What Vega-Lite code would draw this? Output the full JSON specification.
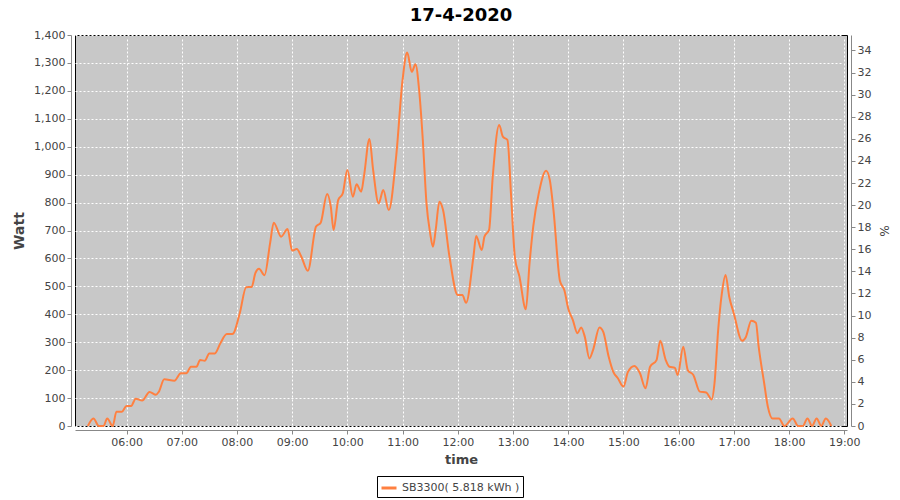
{
  "$schema": "https://vega.github.io/schema/vega-lite/v6.json",
  "autosize": {"type": "none"},
  "width": 772,
  "height": 391,
  "padding": {"left": 75, "top": 35, "right": 53, "bottom": 74},
  "background": "white",
  "title": {"text": "17-4-2020", "font": "DejaVu Sans", "fontSize": 18, "fontWeight": "bold", "color": "black", "offset": 4},
  "config": {
    "view": {"fill": "#c8c8c8", "stroke": "black", "strokeWidth": 1},
    "axis": {
      "domainColor": "#888888", "tickColor": "#888888", "labelColor": "#444444",
      "labelFont": "DejaVu Sans", "labelFontSize": 11, "titleFont": "DejaVu Sans",
      "titleColor": "#444444", "gridColor": "white", "gridDash": [2, 2], "gridOpacity": 1,
      "gridWidth": 1, "offset": 4, "tickSize": 4, "labelPadding": 2
    }
  },
  "layer": [
    {
      "data": {"values": [
        {"t": "2020-04-17T05:18", "w": 0},
        {"t": "2020-04-17T05:24", "w": 27},
        {"t": "2020-04-17T05:30", "w": 0},
        {"t": "2020-04-17T05:35", "w": 0},
        {"t": "2020-04-17T05:39", "w": 27},
        {"t": "2020-04-17T05:45", "w": 0},
        {"t": "2020-04-17T05:49", "w": 51},
        {"t": "2020-04-17T05:55", "w": 51},
        {"t": "2020-04-17T06:00", "w": 72},
        {"t": "2020-04-17T06:05", "w": 72},
        {"t": "2020-04-17T06:10", "w": 98},
        {"t": "2020-04-17T06:17", "w": 91},
        {"t": "2020-04-17T06:25", "w": 122},
        {"t": "2020-04-17T06:32", "w": 112},
        {"t": "2020-04-17T06:35", "w": 122},
        {"t": "2020-04-17T06:41", "w": 167},
        {"t": "2020-04-17T06:52", "w": 162},
        {"t": "2020-04-17T06:59", "w": 189},
        {"t": "2020-04-17T07:05", "w": 189},
        {"t": "2020-04-17T07:10", "w": 212},
        {"t": "2020-04-17T07:16", "w": 212},
        {"t": "2020-04-17T07:20", "w": 236},
        {"t": "2020-04-17T07:25", "w": 234},
        {"t": "2020-04-17T07:30", "w": 260},
        {"t": "2020-04-17T07:36", "w": 260},
        {"t": "2020-04-17T07:42", "w": 296},
        {"t": "2020-04-17T07:49", "w": 329},
        {"t": "2020-04-17T07:55", "w": 329},
        {"t": "2020-04-17T08:03", "w": 403},
        {"t": "2020-04-17T08:10", "w": 497},
        {"t": "2020-04-17T08:16", "w": 498},
        {"t": "2020-04-17T08:20", "w": 547},
        {"t": "2020-04-17T08:24", "w": 563},
        {"t": "2020-04-17T08:30", "w": 540},
        {"t": "2020-04-17T08:36", "w": 654},
        {"t": "2020-04-17T08:40", "w": 728},
        {"t": "2020-04-17T08:48", "w": 678},
        {"t": "2020-04-17T08:55", "w": 705},
        {"t": "2020-04-17T09:00", "w": 628},
        {"t": "2020-04-17T09:05", "w": 634},
        {"t": "2020-04-17T09:10", "w": 606},
        {"t": "2020-04-17T09:17", "w": 556},
        {"t": "2020-04-17T09:26", "w": 714},
        {"t": "2020-04-17T09:31", "w": 728},
        {"t": "2020-04-17T09:38", "w": 831},
        {"t": "2020-04-17T09:42", "w": 785},
        {"t": "2020-04-17T09:45", "w": 702},
        {"t": "2020-04-17T09:50", "w": 809},
        {"t": "2020-04-17T09:55", "w": 833},
        {"t": "2020-04-17T10:00", "w": 917},
        {"t": "2020-04-17T10:06", "w": 821},
        {"t": "2020-04-17T10:10", "w": 866},
        {"t": "2020-04-17T10:15", "w": 839},
        {"t": "2020-04-17T10:18", "w": 893},
        {"t": "2020-04-17T10:24", "w": 1028},
        {"t": "2020-04-17T10:28", "w": 917},
        {"t": "2020-04-17T10:34", "w": 797},
        {"t": "2020-04-17T10:39", "w": 845},
        {"t": "2020-04-17T10:45", "w": 773},
        {"t": "2020-04-17T10:53", "w": 964},
        {"t": "2020-04-17T11:00", "w": 1239},
        {"t": "2020-04-17T11:05", "w": 1337},
        {"t": "2020-04-17T11:10", "w": 1268},
        {"t": "2020-04-17T11:14", "w": 1295},
        {"t": "2020-04-17T11:18", "w": 1203},
        {"t": "2020-04-17T11:22", "w": 1024},
        {"t": "2020-04-17T11:26", "w": 797},
        {"t": "2020-04-17T11:30", "w": 690},
        {"t": "2020-04-17T11:33", "w": 642},
        {"t": "2020-04-17T11:36", "w": 702},
        {"t": "2020-04-17T11:40", "w": 803},
        {"t": "2020-04-17T11:44", "w": 773},
        {"t": "2020-04-17T11:51", "w": 606},
        {"t": "2020-04-17T12:00", "w": 469},
        {"t": "2020-04-17T12:05", "w": 469},
        {"t": "2020-04-17T12:09", "w": 441},
        {"t": "2020-04-17T12:17", "w": 606},
        {"t": "2020-04-17T12:20", "w": 680},
        {"t": "2020-04-17T12:26", "w": 630},
        {"t": "2020-04-17T12:29", "w": 678},
        {"t": "2020-04-17T12:34", "w": 702},
        {"t": "2020-04-17T12:38", "w": 893},
        {"t": "2020-04-17T12:45", "w": 1078},
        {"t": "2020-04-17T12:49", "w": 1036},
        {"t": "2020-04-17T12:54", "w": 1024},
        {"t": "2020-04-17T12:58", "w": 821},
        {"t": "2020-04-17T13:02", "w": 606},
        {"t": "2020-04-17T13:07", "w": 535},
        {"t": "2020-04-17T13:14", "w": 418},
        {"t": "2020-04-17T13:18", "w": 583},
        {"t": "2020-04-17T13:22", "w": 714},
        {"t": "2020-04-17T13:28", "w": 833},
        {"t": "2020-04-17T13:36", "w": 914},
        {"t": "2020-04-17T13:40", "w": 881},
        {"t": "2020-04-17T13:44", "w": 773},
        {"t": "2020-04-17T13:51", "w": 520},
        {"t": "2020-04-17T13:56", "w": 484},
        {"t": "2020-04-17T14:00", "w": 421},
        {"t": "2020-04-17T14:05", "w": 380},
        {"t": "2020-04-17T14:10", "w": 332},
        {"t": "2020-04-17T14:14", "w": 353},
        {"t": "2020-04-17T14:18", "w": 320},
        {"t": "2020-04-17T14:23", "w": 242},
        {"t": "2020-04-17T14:27", "w": 272},
        {"t": "2020-04-17T14:34", "w": 353},
        {"t": "2020-04-17T14:38", "w": 338},
        {"t": "2020-04-17T14:44", "w": 248},
        {"t": "2020-04-17T14:49", "w": 194},
        {"t": "2020-04-17T14:54", "w": 171},
        {"t": "2020-04-17T15:00", "w": 141},
        {"t": "2020-04-17T15:05", "w": 194},
        {"t": "2020-04-17T15:12", "w": 215},
        {"t": "2020-04-17T15:18", "w": 189},
        {"t": "2020-04-17T15:24", "w": 135},
        {"t": "2020-04-17T15:29", "w": 212},
        {"t": "2020-04-17T15:36", "w": 236},
        {"t": "2020-04-17T15:40", "w": 305},
        {"t": "2020-04-17T15:46", "w": 236},
        {"t": "2020-04-17T15:50", "w": 212},
        {"t": "2020-04-17T15:56", "w": 208},
        {"t": "2020-04-17T15:59", "w": 183},
        {"t": "2020-04-17T16:05", "w": 284},
        {"t": "2020-04-17T16:10", "w": 200},
        {"t": "2020-04-17T16:16", "w": 183},
        {"t": "2020-04-17T16:23", "w": 123},
        {"t": "2020-04-17T16:30", "w": 120},
        {"t": "2020-04-17T16:36", "w": 95},
        {"t": "2020-04-17T16:39", "w": 153},
        {"t": "2020-04-17T16:43", "w": 344},
        {"t": "2020-04-17T16:47", "w": 475},
        {"t": "2020-04-17T16:51", "w": 541},
        {"t": "2020-04-17T16:55", "w": 463},
        {"t": "2020-04-17T17:00", "w": 403},
        {"t": "2020-04-17T17:09", "w": 305},
        {"t": "2020-04-17T17:13", "w": 318},
        {"t": "2020-04-17T17:19", "w": 377},
        {"t": "2020-04-17T17:24", "w": 370},
        {"t": "2020-04-17T17:27", "w": 284},
        {"t": "2020-04-17T17:33", "w": 153},
        {"t": "2020-04-17T17:37", "w": 69},
        {"t": "2020-04-17T17:42", "w": 27},
        {"t": "2020-04-17T17:49", "w": 27},
        {"t": "2020-04-17T17:55", "w": 0},
        {"t": "2020-04-17T18:04", "w": 27},
        {"t": "2020-04-17T18:10", "w": 0},
        {"t": "2020-04-17T18:15", "w": 0},
        {"t": "2020-04-17T18:20", "w": 27},
        {"t": "2020-04-17T18:25", "w": 0},
        {"t": "2020-04-17T18:30", "w": 27},
        {"t": "2020-04-17T18:35", "w": 0},
        {"t": "2020-04-17T18:40", "w": 27},
        {"t": "2020-04-17T18:46", "w": 0}
      ]},
      "mark": {"type": "line", "interpolate": "monotone", "strokeWidth": 2},
      "encoding": {
        "x": {
          "field": "t", "type": "temporal",
          "scale": {"domain": ["2020-04-17T05:04", "2020-04-17T19:03"]},
          "axis": {"title": "time", "format": "%H:%M", "tickCount": 14,
                   "titleFontWeight": "bold", "titleFontSize": 13, "titlePadding": 6, "grid": true}
        },
        "y": {
          "field": "w", "type": "quantitative",
          "scale": {"domain": [0, 1400]},
          "axis": {"title": "Watt", "values": [0, 100, 200, 300, 400, 500, 600, 700, 800, 900, 1000, 1100, 1200, 1300, 1400],
                   "format": ",d", "titleFontSize": 14, "titleFontWeight": "bold", "titlePadding": 7}
        },
        "color": {
          "datum": "SB3300( 5.818 kWh )",
          "type": "nominal",
          "scale": {"range": ["#ff8040"]},
          "legend": {"orient": "none", "legendX": 302, "legendY": 441, "title": null, "symbolType": "stroke",
                     "symbolStrokeWidth": 3, "symbolSize": 225, "strokeColor": "black", "padding": 3,
                     "labelFont": "DejaVu Sans", "labelFontSize": 11, "labelColor": "#444444", "labelOffset": 4}
        }
      }
    },
    {
      "data": {"values": [{"p": 0}]},
      "mark": {"type": "tick", "opacity": 0},
      "encoding": {
        "y": {
          "field": "p", "type": "quantitative",
          "scale": {"domain": [0, 35.4]},
          "axis": {"orient": "right", "title": "%", "values": [0, 2, 4, 6, 8, 10, 12, 14, 16, 18, 20, 22, 24, 26, 28, 30, 32, 34],
                   "grid": false, "titleFontSize": 12, "titleFontWeight": "normal", "titlePadding": 6}
        }
      }
    }
  ],
  "resolve": {"scale": {"y": "independent"}}
}
